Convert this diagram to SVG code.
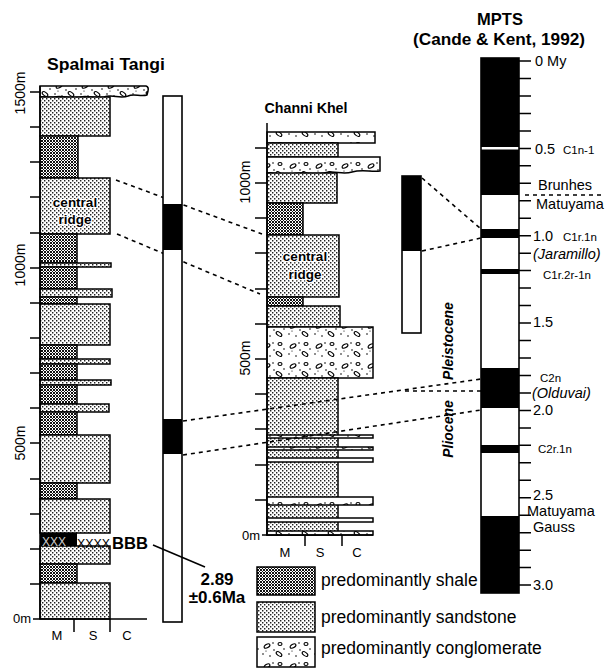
<svg xmlns="http://www.w3.org/2000/svg" width="607" height="668" viewBox="0 0 607 668">
<style>
.t{font-family:"Liberation Sans",Arial,Helvetica,sans-serif;fill:#000}
.b{font-weight:bold}
.ol{stroke:#000;stroke-width:1.5}
.sh{fill:url(#pSh)}
.ss{fill:url(#pSs)}
.cg{fill:url(#pCg)}
.dash{fill:none;stroke:#000;stroke-width:1.6;stroke-dasharray:4 4}
.tk{fill:none;stroke:#000;stroke-width:1.5}
.halo{stroke:#fff;stroke-width:2.5;paint-order:stroke;stroke-linejoin:round}
</style>
<defs>
<pattern id="pSh" width="3" height="3" patternUnits="userSpaceOnUse">
<rect width="3" height="3" fill="#fff"/>
<path d="M0 0h1v1H0zM1 1h1v1H1zM2 2h1v1H2zM2 0h1v1H2zM0 2h1v1H0z" fill="#111"/>
</pattern>
<pattern id="pSs" width="4" height="4" patternUnits="userSpaceOnUse">
<rect width="4" height="4" fill="#fff"/>
<path d="M0 0h1.4v1.4H0zM2 2h1.4v1.4H2z" fill="#222"/>
</pattern>
<pattern id="pCg" width="26" height="20" patternUnits="userSpaceOnUse">
<rect width="26" height="20" fill="#fff"/>
<g fill="none" stroke="#000" stroke-width="1.1">
<ellipse cx="7" cy="6" rx="3.2" ry="1.7" transform="rotate(-30 7 6)"/>
<ellipse cx="19" cy="14" rx="3.2" ry="1.7" transform="rotate(35 19 14)"/>
<ellipse cx="20" cy="4" rx="2" ry="1.5"/>
</g>
<g fill="#000">
<circle cx="13" cy="3" r="0.8"/><circle cx="3" cy="14" r="0.8"/><circle cx="10" cy="16" r="0.8"/>
<circle cx="14" cy="10" r="0.8"/><circle cx="24" cy="9" r="0.8"/><circle cx="6" cy="11" r="0.6"/>
</g>
</pattern>
</defs>
<rect width="607" height="668" fill="#fff"/>

<g id="spalmai-tangi">
<text class="t b" x="106" y="70" font-size="16" text-anchor="middle" textLength="118" lengthAdjust="spacingAndGlyphs">Spalmai Tangi</text>
<path class="cg ol" d="M40 86H146Q149 87 148 91L147 95C140 97 134 93 128 96C120 99 112 94 104 97C96 99 88 95 80 97C70 99 62 95 54 97C48 98 44 96 40 97Z"/>
<rect class="ss ol" x="40" y="97" width="70" height="39"/>
<rect class="sh ol" x="40" y="136" width="38" height="42"/>
<rect class="ss ol" x="40" y="178" width="70" height="56"/>
<rect class="sh ol" x="40" y="234" width="37" height="29"/>
<rect class="ss ol" x="40" y="263" width="71" height="4"/>
<rect class="sh ol" x="40" y="267" width="37" height="22"/>
<rect class="ss ol" x="40" y="289" width="72" height="8"/>
<rect class="sh ol" x="40" y="297" width="37" height="7"/>
<rect class="ss ol" x="40" y="304" width="70" height="41"/>
<rect class="sh ol" x="40" y="345" width="37" height="14"/>
<rect class="ss ol" x="40" y="359" width="70" height="5"/>
<rect class="sh ol" x="40" y="364" width="37" height="16"/>
<rect class="ss ol" x="40" y="380" width="71" height="5"/>
<rect class="sh ol" x="40" y="385" width="37" height="19"/>
<rect class="ss ol" x="40" y="404" width="69" height="8"/>
<rect class="sh ol" x="40" y="412" width="37" height="23"/>
<rect class="ss ol" x="40" y="435" width="70" height="48"/>
<rect class="sh ol" x="40" y="483" width="37" height="16"/>
<rect class="ss ol" x="40" y="499" width="70" height="34"/>
<rect x="40" y="533" width="37" height="13" fill="#000"/>
<rect class="ss ol" x="40" y="546" width="70" height="18"/>
<rect class="sh ol" x="40" y="564" width="37" height="19"/>
<rect class="ss ol" x="40" y="583" width="70" height="36"/>
<text class="t b halo" x="75" y="207" font-size="13.5" text-anchor="middle">central</text>
<text class="t b halo" x="75" y="224" font-size="13.5" text-anchor="middle">ridge</text>
<path class="tk" stroke-width="2" d="M40 86V619M33 619H147M74 619V632M110 619V632"/>
<path class="tk" d="M30 584H40M30 549H40M30 514H40M30 479H40M30 443H40M30 408H40M30 373H40M30 338H40M30 303H40M30 268H40M30 233H40M30 197H40M30 162H40M30 127H40M30 92H40"/>
<text class="t" font-size="14" text-anchor="middle" transform="translate(25 93) rotate(-90)">1500m</text>
<text class="t" font-size="14" text-anchor="middle" transform="translate(25 265) rotate(-90)">1000m</text>
<text class="t" font-size="14" text-anchor="middle" transform="translate(25 443) rotate(-90)">500m</text>
<text class="t" x="13" y="623" font-size="13">0m</text>
<text class="t" x="57" y="640" font-size="13" text-anchor="middle">M</text>
<text class="t" x="93" y="640" font-size="13" text-anchor="middle">S</text>
<text class="t" x="127" y="640" font-size="13" text-anchor="middle">C</text>
</g>

<g id="channi-khel">
<text class="t b" x="306" y="113" font-size="15" text-anchor="middle" textLength="83" lengthAdjust="spacingAndGlyphs">Channi Khel</text>
<rect class="cg ol" x="267" y="132" width="108" height="11"/>
<rect class="ss ol" x="267" y="143" width="71" height="14"/>
<path class="cg ol" d="M267 157H380V171C370 172 362 169 352 172C342 175 334 170 324 173C312 175 302 171 292 174C282 176 274 172 267 173Z"/>
<rect class="ss ol" x="267" y="173" width="70" height="30"/>
<rect class="sh ol" x="267" y="203" width="36" height="32"/>
<rect class="ss ol" x="267" y="235" width="72" height="62"/>
<rect class="sh ol" x="267" y="297" width="36" height="9"/>
<rect class="ss ol" x="267" y="306" width="73" height="21"/>
<rect class="cg ol" x="267" y="327" width="106" height="51"/>
<rect class="ss ol" x="267" y="378" width="71" height="157"/>
<rect class="cg ol" x="267" y="435" width="106" height="3"/>
<rect class="cg ol" x="267" y="447" width="106" height="3"/>
<rect class="cg ol" x="267" y="458" width="106" height="4"/>
<rect class="cg ol" x="267" y="497" width="106" height="8"/>
<rect class="cg ol" x="267" y="518" width="106" height="4"/>
<rect class="cg ol" x="267" y="531" width="106" height="4"/>
<text class="t b halo" x="305" y="261" font-size="13.5" text-anchor="middle">central</text>
<text class="t b halo" x="305" y="279" font-size="13.5" text-anchor="middle">ridge</text>
<path class="tk" stroke-width="2" d="M267 123V535M262 535H373M305 535V546M342 535V546"/>
<path class="tk" d="M255 500H267M255 465H267M255 429H267M255 394H267M255 359H267M255 324H267M255 289H267M255 253H267M255 218H267M255 183H267M255 148H267"/>
<text class="t" font-size="14" text-anchor="middle" transform="translate(250 182) rotate(-90)">1000m</text>
<text class="t" font-size="14" text-anchor="middle" transform="translate(250 358) rotate(-90)">500m</text>
<text class="t" x="242" y="540" font-size="13">0m</text>
<text class="t" x="285" y="557" font-size="13" text-anchor="middle">M</text>
<text class="t" x="320" y="557" font-size="13" text-anchor="middle">S</text>
<text class="t" x="357" y="557" font-size="13" text-anchor="middle">C</text>
</g>

<g id="connectors">
<path class="dash" d="M116 180L262 234"/>
<path class="dash" d="M117 234L260 294"/>
<path class="dash" d="M183 421L481 379"/>
<path class="dash" d="M183 455L481 410"/>
<path class="dash" d="M422 178L481 229"/>
<path class="dash" d="M422 251L481 238"/>
<path class="dash" d="M405 391L481 391"/>
</g>

<g id="spalmai-tangi-polarity">
<rect x="163" y="96" width="19" height="526" fill="#fff" stroke="#000" stroke-width="1.6"/>
<rect x="163" y="204" width="19" height="46" fill="#000"/>
<rect x="163" y="419" width="19" height="35" fill="#000"/>
</g>

<g id="channi-khel-polarity">
<rect x="402" y="176" width="19" height="157" fill="#fff" stroke="#000" stroke-width="1.6"/>
<rect x="402" y="176" width="19" height="75" fill="#000"/>
</g>

<g id="mpts">
<text class="t b" x="500" y="25" font-size="16.5" text-anchor="middle">MPTS</text>
<text class="t b" x="499" y="45" font-size="16.5" text-anchor="middle" textLength="172" lengthAdjust="spacingAndGlyphs">(Cande &amp; Kent, 1992)</text>
<rect x="481" y="58" width="38" height="535" fill="#fff" stroke="#000" stroke-width="1.6"/>
<g fill="#000">
<rect x="481" y="58" width="38" height="89"/>
<rect x="481" y="149.5" width="38" height="45.5"/>
<rect x="481" y="229" width="38" height="9"/>
<rect x="481" y="269" width="38" height="5"/>
<rect x="481" y="368" width="38" height="40"/>
<rect x="481" y="445" width="38" height="8"/>
<rect x="481" y="516" width="38" height="77"/>
</g>
<path class="tk" d="M519 61h12M519 78.5h12M519 95.9h12M519 113.4h12M519 130.9h12M519 148.4h12M519 165.8h12M519 183.3h12M519 200.8h12M519 218.2h12M519 235.7h12M519 253.2h12M519 270.6h12M519 288.1h12M519 305.6h12M519 323.1h12M519 340.5h12M519 358h12M519 375.5h12M519 392.9h12M519 410.4h12M519 427.9h12M519 445.3h12M519 462.8h12M519 480.3h12M519 497.8h12M519 515.2h12M519 532.7h12M519 550.2h12M519 567.6h12M519 585.1h12"/>
<path class="dash" stroke-width="1.4" d="M525 195H601"/>
<g class="t" font-size="14.5">
<text x="535" y="66">0 My</text>
<text x="535" y="154">0.5</text>
<text x="538" y="190">Brunhes</text>
<text x="536" y="209">Matuyama</text>
<text x="533" y="241">1.0</text>
<text x="533" y="327">1.5</text>
<text x="533" y="415">2.0</text>
<text x="533" y="500">2.5</text>
<text x="527" y="516">Matuyama</text>
<text x="533" y="532">Gauss</text>
<text x="533" y="590">3.0</text>
<text x="533" y="259" font-style="italic">(Jaramillo)</text>
<text x="532" y="398" font-style="italic">(Olduvai)</text>
</g>
<g class="t" font-size="11.5">
<text x="563" y="154">C1n-1</text>
<text x="563" y="241">C1r.1n</text>
<text x="543" y="279">C1r.2r-1n</text>
<text x="540" y="382">C2n</text>
<text x="538" y="453">C2r.1n</text>
</g>
</g>

<g id="epochs">
<text class="t b" font-size="14" font-style="italic" text-anchor="middle" transform="translate(453 341) rotate(-90)">Pleistocene</text>
<text class="t b" font-size="14" font-style="italic" text-anchor="middle" transform="translate(453 429) rotate(-90)">Pliocene</text>
</g>

<g id="age-annotation">
<text class="t" x="42" y="546" font-size="12" style="fill:#ccc">XXX</text>
<text class="t" x="77" y="548" font-size="12" textLength="33" lengthAdjust="spacingAndGlyphs">XXXX</text>
<text class="t b" x="112" y="549" font-size="16" textLength="36" lengthAdjust="spacingAndGlyphs">BBB</text>
<path class="tk" d="M153 545L205 567"/>
<text class="t b" x="217" y="585" font-size="17" text-anchor="middle">2.89</text>
<text class="t b" x="217" y="603" font-size="17" text-anchor="middle">±0.6Ma</text>
</g>

<g id="legend">
<rect class="sh ol" x="257" y="567" width="58" height="28"/>
<rect class="ss ol" x="257" y="602" width="58" height="30"/>
<rect class="cg ol" x="257" y="637" width="58" height="30"/>
<text class="t" x="321" y="586" font-size="17.5">predominantly shale</text>
<text class="t" x="321" y="623" font-size="17.5">predominantly sandstone</text>
<text class="t" x="321" y="654" font-size="17.5">predominantly conglomerate</text>
</g>
</svg>
